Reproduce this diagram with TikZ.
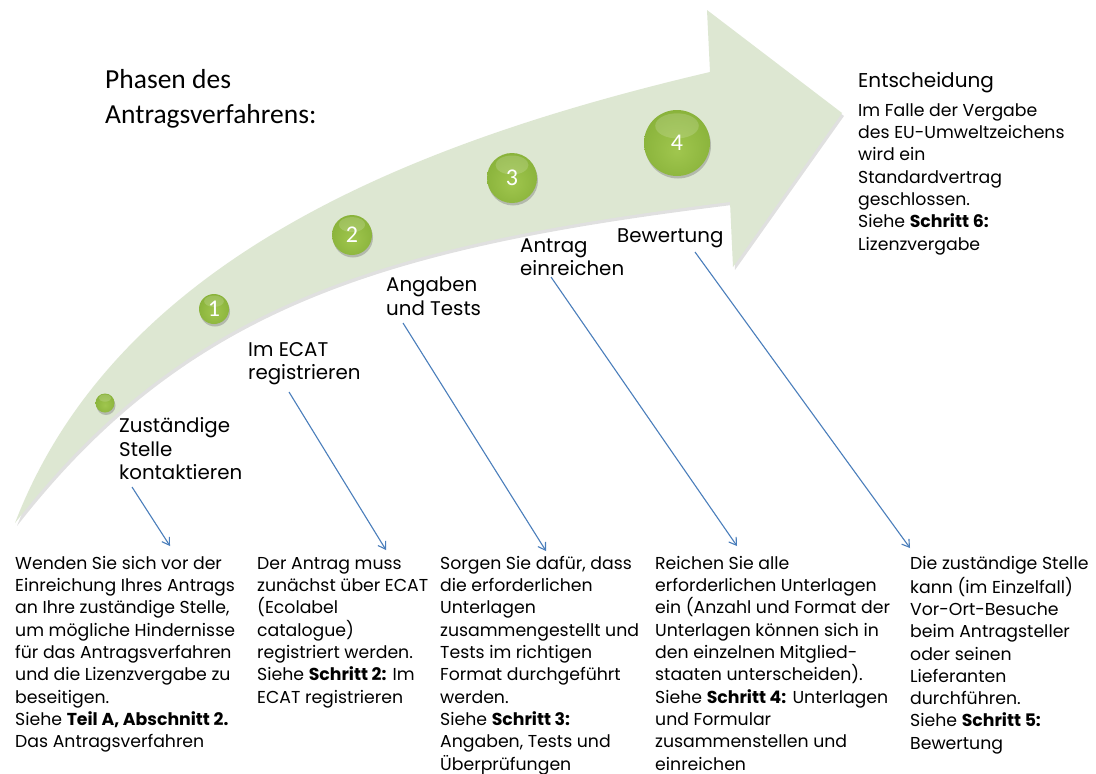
\documentclass[tikz,border=0pt]{standalone}
\usepackage{fontspec}
\setmainfont{Poppins}
\newfontfamily\calib{Carlito}
\usetikzlibrary{arrows.meta,shadows}
\definecolor{bandgreen}{RGB}{221,231,210}
\definecolor{gLight}{RGB}{160,198,78}
\definecolor{gMid}{RGB}{134,176,56}
\definecolor{gDark}{RGB}{88,124,28}
\definecolor{linkblue}{RGB}{74,126,187}
\pgfdeclareradialshading{greenball}{\pgfpoint{0bp}{-6bp}}{color(0bp)=(gLight); color(32bp)=(gMid); color(50bp)=(gDark)}
\tikzset{
  body/.style={anchor=north west, inner sep=0pt, align=left, font=\fontsize{17.3}{22.3}\selectfont},
  phase/.style={anchor=north west, inner sep=0pt, align=left, font=\fontsize{19.8}{23.3}\selectfont},
  link/.style={draw=linkblue, line width=1.1pt, -{Straight Barb[length=7pt,width=9pt]}},
  ball/.style={circle, inner sep=0pt, minimum size=#1, shading=greenball,
    drop shadow={shadow xshift=1pt, shadow yshift=-2.5pt, opacity=0.35, fill=black!60},
    text=white, font=\calib\fontsize{24}{24}\selectfont,
    path picture={\fill[white,opacity=0.16] ([yshift=-0.24*#1]path picture bounding box.north) ellipse [x radius=0.33*#1, y radius=0.19*#1];}},
}
\begin{document}
\begin{tikzpicture}[x=1pt,y=-1pt]
\useasboundingbox[fill=white] (0,0) rectangle (1096,774);
% arrow shadow
\fill[black,opacity=0.12,shift={(2,3)}] (15,523) .. controls (118,255) and (420,140) .. (710,72) -- (707,10) -- (842,113) -- (733,267) -- (730,202) .. controls (380,245) and (185,305) .. (15,523) -- cycle;
% arrow
\fill[bandgreen] (15,523) .. controls (118,255) and (420,140) .. (710,72) -- (707,10) -- (842,113) -- (733,267) -- (730,202) .. controls (380,245) and (185,305) .. (15,523) -- cycle;
% balls
\node[ball=19pt] (c0) at (105,403) {};
\node[ball=30pt] (c1) at (214,309) {1};
\node[ball=40pt] (c2) at (352,235) {2};
\node[ball=50pt] (c3) at (512,178) {3};
\node[ball=66pt] (c4) at (677,143) {4};
% title
\node[anchor=north west, inner sep=0pt, align=left, font=\calib\fontsize{27.5}{35}\selectfont] (title) at (105,63.5) {\strut Phasen des\\Antragsverfahrens:};
% phase labels
\node[phase] (p1) at (119,416.4) {\strut Zuständige\\Stelle\\kontaktieren};
\node[phase] (p2) at (248,339.7) {\strut Im ECAT\\registrieren};
\node[phase] (p3) at (386,275.4) {\strut Angaben\\und Tests};
\node[phase] (p4) at (520,235.7) {\strut Antrag\\einreichen};
\node[phase, anchor=base west] (p5) at (617,242) {Bewertung};
% decision
\node[anchor=base west, inner sep=0pt, font=\fontsize{20}{24}\selectfont] (dec) at (858,87) {Entscheidung};
\node[body] (dect) at (858,100.5) {\strut Im Falle der Vergabe\\des EU-Umweltzeichens\\wird ein\\Standardvertrag\\geschlossen.\\Siehe \textbf{Schritt 6:}\\Lizenzvergabe};
% bottom texts
\node[body] (b1) at (15,553.5) {\strut Wenden Sie sich vor der\\Einreichung Ihres Antrags\\an Ihre zuständige Stelle,\\um mögliche Hindernisse\\für das Antragsverfahren\\und die Lizenzvergabe zu\\beseitigen.\\Siehe \textbf{Teil A, Abschnitt 2.}\\Das Antragsverfahren};
\node[body] (b2) at (257,553.5) {\strut Der Antrag muss\\zunächst über ECAT\\(Ecolabel\\catalogue)\\registriert werden.\\Siehe \textbf{Schritt 2:} Im\\ECAT registrieren};
\node[body] (b3) at (440,553.5) {\strut Sorgen Sie dafür, dass\\die erforderlichen\\Unterlagen\\zusammengestellt und\\Tests im richtigen\\Format durchgeführt\\werden.\\Siehe \textbf{Schritt 3:}\\Angaben, Tests und\\Überprüfungen};
\node[body] (b4) at (655,553.5) {\strut Reichen Sie alle\\erforderlichen Unterlagen\\ein (Anzahl und Format der\\Unterlagen können sich in\\den einzelnen Mitglied-\\staaten unterscheiden).\\Siehe \textbf{Schritt 4:} Unterlagen\\und Formular\\zusammenstellen und\\einreichen};
\node[body] (b5) at (910,553.5) {\strut Die zuständige Stelle\\kann (im Einzelfall)\\Vor-Ort-Besuche\\beim Antragsteller\\oder seinen\\Lieferanten\\durchführen.\\Siehe \textbf{Schritt 5:}\\Bewertung};
% connectors
\coordinate (s1) at (132,487); \coordinate (e1) at (170,546);
\coordinate (s2) at (289,392); \coordinate (e2) at (386,550);
\coordinate (s3) at (403,323); \coordinate (e3) at (546,551);
\coordinate (s4) at (551,277); \coordinate (e4) at (737,546);
\coordinate (s5) at (695,252); \coordinate (e5) at (910,548);
\draw[link] (s1) -- (e1);
\draw[link] (s2) -- (e2);
\draw[link] (s3) -- (e3);
\draw[link] (s4) -- (e4);
\draw[link] (s5) -- (e5);
\end{tikzpicture}
\end{document}
